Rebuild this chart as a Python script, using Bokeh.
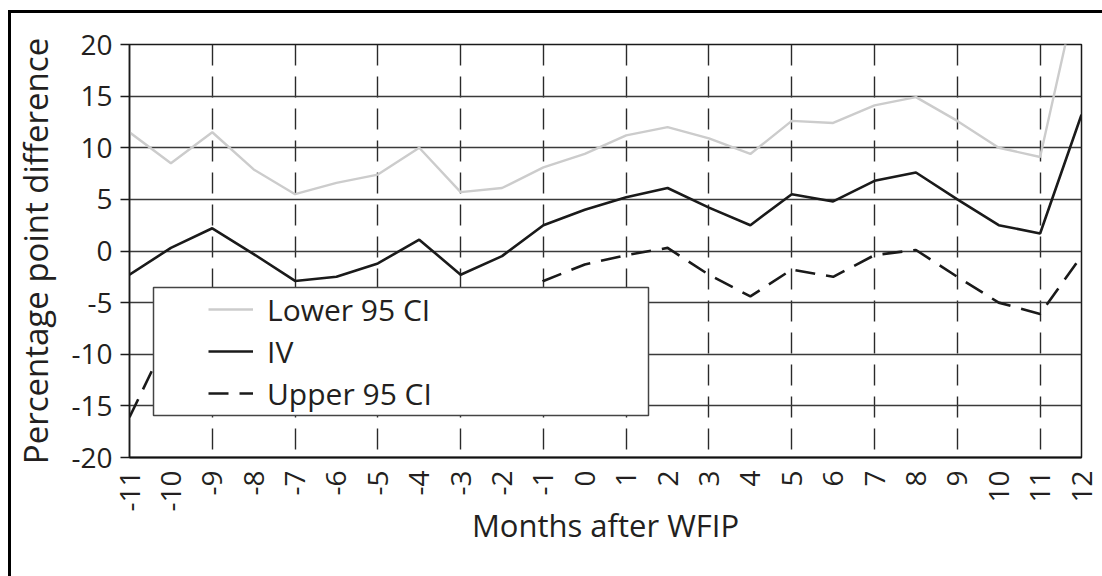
import math

from bokeh.embed import file_html
from bokeh.models import BoxAnnotation, FixedTicker, Legend, LegendItem, Range1d
from bokeh.plotting import figure
from bokeh.resources import INLINE

# Months relative to WFIP and the estimated percentage point differences
months = list(range(-11, 13))
month_labels = ["-11", "-10", "-9", "-8", "-7", "-6", "-5", "-4", "-3", "-2", "-1", "0",
                "1", "2", "3", "4", "5", "6", "7", "8", "9", "10", "11", "12"]
lower_ci = [11.5, 8.5, 11.5, 7.9, 5.5, 6.6, 7.4, 10.0, 5.7, 6.1, 8.1, 9.4,
            11.2, 12.0, 10.9, 9.4, 12.6, 12.4, 14.1, 14.9, 12.6, 10.0, 9.1, 27.0]
iv = [-2.3, 0.3, 2.2, -0.3, -2.9, -2.5, -1.2, 1.1, -2.3, -0.5, 2.5, 4.0,
      5.2, 6.1, 4.2, 2.5, 5.5, 4.8, 6.8, 7.6, 5.0, 2.5, 1.7, 13.2]
upper_ci = [-16.1, -7.8, -7.2, -8.5, -11.4, -11.6, -10.0, -7.8, -10.4, -7.2, -2.9, -1.3,
            -0.4, 0.3, -2.3, -4.4, -1.8, -2.5, -0.4, 0.1, -2.5, -5.0, -6.1, -0.5]

y_ticks = [-20, -15, -10, -5, 0, 5, 10, 15, 20]
y_labels = ["-20", "-15", "-10", "-5", "0", "5", "10", "15", "20"]
grid_months = [-9, -7, -5, -3, -1, 1, 3, 5, 7, 9, 11]

FONT = "Open Sans"
INK = "#231f20"

p = figure(
    width=1102, height=576,
    x_range=Range1d(-11, 12), y_range=Range1d(-20, 20),
    output_backend="svg", toolbar_location=None,
    min_border_left=129, min_border_right=21,
    min_border_top=44, min_border_bottom=119,
    background_fill_color="white", border_fill_color="white",
)
p.outline_line_color = "#1a1a1a"
p.outline_line_width = 1.5

# thin black frame along the top and left of the whole chart
p.stylesheets = [
    ":host::after { content: ''; position: absolute; left: 8px; top: 10px; "
    "right: 0px; bottom: 0px; border-left: 3px solid #000; border-top: 3px solid #000; "
    "pointer-events: none; z-index: 100; }"
]

# y axis
p.yaxis.ticker = FixedTicker(ticks=y_ticks)
p.yaxis.major_label_overrides = dict(zip(y_ticks, y_labels))
p.yaxis.axis_label = "Percentage point difference"
p.yaxis.major_tick_out = 9
p.yaxis.major_tick_in = 0
p.yaxis.minor_tick_out = 0
p.yaxis.minor_tick_in = 0
p.yaxis.major_tick_line_color = "#1a1a1a"
p.yaxis.major_tick_line_width = 1.5
p.yaxis.axis_line_color = "#1a1a1a"
p.yaxis.axis_line_width = 1.5
p.yaxis.major_label_standoff = 8
p.yaxis.axis_label_standoff = 10
p.yaxis.axis_label_text_font_size = "33px"

# x axis
p.xaxis.ticker = FixedTicker(ticks=months)
p.xaxis.major_label_overrides = dict(zip(months, month_labels))
p.xaxis.major_label_orientation = math.pi / 2
p.xaxis.axis_label = "Months after WFIP"
p.xaxis.major_tick_out = 0
p.xaxis.major_tick_in = 0
p.xaxis.minor_tick_out = 0
p.xaxis.minor_tick_in = 0
p.xaxis.axis_line_color = "#111111"
p.xaxis.axis_line_width = 2.2
p.xaxis.major_label_standoff = 13
p.xaxis.axis_label_standoff = -11
p.xaxis.axis_label_text_font_size = "31px"

for ax in (p.xaxis, p.yaxis):
    ax.major_label_text_font = FONT
    ax.major_label_text_font_size = "28px"
    ax.major_label_text_color = INK
    ax.axis_label_text_font = FONT
    ax.axis_label_text_font_style = "normal"
    ax.axis_label_text_color = INK

# grid: solid horizontal lines, dashed verticals at odd months
p.ygrid.ticker = FixedTicker(ticks=y_ticks)
p.ygrid.grid_line_color = "#3a3a3a"
p.ygrid.grid_line_width = 1.4
p.xgrid.ticker = FixedTicker(ticks=grid_months)
p.xgrid.grid_line_color = "#2a2a2a"
p.xgrid.grid_line_width = 1.4
p.xgrid.grid_line_dash = "21 11"
p.xgrid.grid_line_dash_offset = 24

# series
r_lower = p.line(months, lower_ci, line_color="#cccccc", line_width=2.4)
r_iv = p.line(months, iv, line_color="#1a1a1a", line_width=2.6)
r_upper = p.line(months, upper_ci, line_color="#1a1a1a", line_width=2.6, line_dash="20 11")

# legend panel
panel = BoxAnnotation(left=153, right=648, top=287, bottom=415,
                      left_units="canvas", right_units="canvas",
                      top_units="canvas", bottom_units="canvas",
                      fill_color="white", fill_alpha=1.0,
                      line_color="#444444", line_width=1.5, line_alpha=1.0)
p.add_layout(panel)

legend = Legend(
    items=[LegendItem(label="Lower 95 CI", renderers=[r_lower]),
           LegendItem(label="IV", renderers=[r_iv]),
           LegendItem(label="Upper 95 CI", renderers=[r_upper])],
    location=(79, 43), padding=0, margin=0, spacing=0,
    glyph_width=45, glyph_height=42, label_height=42, label_standoff=14,
    label_text_font=FONT, label_text_font_size="30px", label_text_color=INK,
    border_line_alpha=0, background_fill_alpha=0,
)
p.add_layout(legend)

open("out.html", "w").write(file_html(p, INLINE))
